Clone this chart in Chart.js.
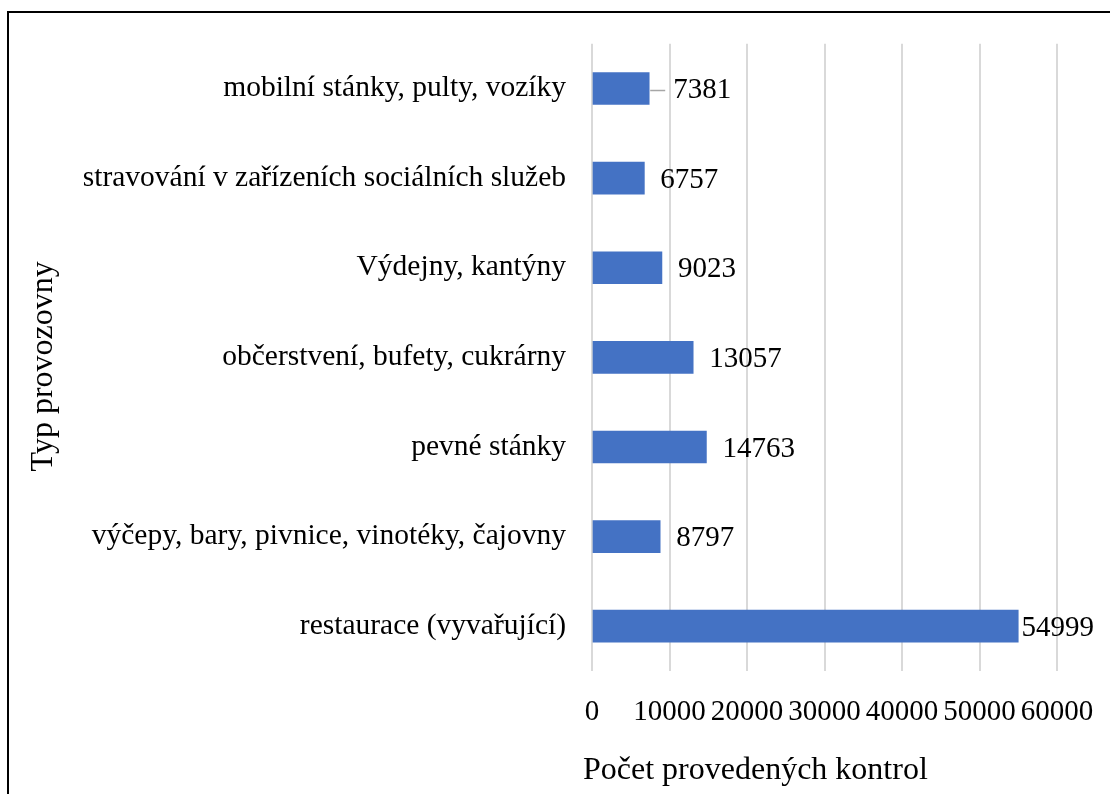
<!DOCTYPE html>
<html>
<head>
<meta charset="utf-8">
<script src="https://cdn.jsdelivr.net/npm/chart.js@4/dist/chart.umd.min.js"></script>
<style>
    html, body { margin: 0; padding: 0; background: #fff; }
    #wrap { width: 1110px; height: 794px; position: relative; }
</style>
</head>
<body>
<div id="wrap"><canvas id="kontroly"></canvas></div>
<script>
// data (top to bottom)
const categories = [
    'mobilní stánky, pulty, vozíky',
    'stravování v zařízeních sociálních služeb',
    'Výdejny, kantýny',
    'občerstvení, bufety, cukrárny',
    'pevné stánky',
    'výčepy, bary, pivnice, vinotéky, čajovny',
    'restaurace (vyvařující)'
];
const counts = [7381, 6757, 9023, 13057, 14763, 8797, 54999];
const xTicks = [0, 10000, 20000, 30000, 40000, 50000, 60000];
const xTitle = 'Počet provedených kontrol';
const yTitle = 'Typ provozovny';

const FONT = '"Liberation Serif", "Times New Roman", serif';
const SIZE = 29;

// frame around the whole chart (open to the right and bottom, like the crop)
const framePlugin = {
    id: 'frame',
    beforeDraw(chart) {
        const ctx = chart.ctx;
        ctx.save();
        ctx.fillStyle = '#000';
        ctx.fillRect(7, 11, 2, 900);
        ctx.fillRect(7, 11, 1200, 2);
        ctx.restore();
    }
};

// axis titles: Excel doesn't center them exactly on the plot, so draw by hand
const axisTitles = {
    id: 'axisTitles',
    afterDraw(chart) {
        const ctx = chart.ctx;
        const area = chart.chartArea;
        ctx.save();
        ctx.font = '32px ' + FONT;
        ctx.fillStyle = '#000';
        ctx.textBaseline = 'middle';
        ctx.textAlign = 'left';
        ctx.fillText(xTitle, area.left - 9, 771);
        ctx.translate(44, (area.top + area.bottom) / 2 + 9);
        ctx.rotate(-Math.PI / 2);
        ctx.textAlign = 'center';
        ctx.fillText(yTitle, 0, 0);
        ctx.restore();
    }
};

// value labels at the end of each bar
const valueLabels = {
    id: 'valueLabels',
    afterDatasetsDraw(chart) {
        const ctx = chart.ctx;
        const meta = chart.getDatasetMeta(0);
        ctx.save();
        ctx.font = SIZE + 'px ' + FONT;
        ctx.fillStyle = '#000';
        ctx.textBaseline = 'middle';
        ctx.textAlign = 'left';
        meta.data.forEach((bar, i) => {
            const txt = String(counts[i]);
            const w = ctx.measureText(txt).width;
            let x = bar.x + 16;
            if (i === 0) {
                // this one was dragged a bit, Excel draws a leader line
                x = bar.x + 24;
                ctx.strokeStyle = '#a6a6a6';
                ctx.lineWidth = 1.5;
                ctx.beginPath();
                ctx.moveTo(bar.x + 1, bar.y + 2);
                ctx.lineTo(bar.x + 16, bar.y + 2);
                ctx.stroke();
            }
            if (x + w > 1094) x = Math.max(bar.x + 3, 1094 - w);
            ctx.fillText(txt, x, bar.y + 2);
        });
        ctx.restore();
    }
};

const ctx = document.getElementById('kontroly').getContext('2d');
new Chart(ctx, {
    type: 'bar',
    data: {
        labels: categories,
        datasets: [{
            data: counts,
            backgroundColor: '#4472C4',
            barThickness: 32
        }]
    },
    options: {
        indexAxis: 'y',
        responsive: true,
        maintainAspectRatio: false,
        animation: false,
        layout: { padding: { top: 41, right: 53, bottom: 0, left: 0 } },
        plugins: {
            legend: { display: false },
            tooltip: { enabled: false }
        },
        scales: {
            x: {
                min: 0,
                max: 60000,
                afterBuildTicks: (scale) => { scale.ticks = xTicks.map(v => ({ value: v })); },
                afterFit: (scale) => {
                    scale.height = 123;
                    // keep the plot edge where the layout padding says
                    scale.paddingLeft = 0;
                    scale.paddingRight = 0;
                },
                grid: { color: '#d9d9d9', lineWidth: 2, drawTicks: false },
                border: { display: false },
                ticks: {
                    padding: 24,
                    color: '#000',
                    maxRotation: 0,
                    autoSkip: false,
                    font: { family: FONT, size: SIZE },
                    callback: (v) => String(v)
                },
                title: { display: false }
            },
            y: {
                afterFit: (scale) => { scale.width = 592; },
                grid: { display: false, drawTicks: false },
                border: { display: false },
                ticks: {
                    padding: 26,
                    color: '#000',
                    font: { family: FONT, size: 29.5 }
                },
                title: { display: false }
            }
        }
    },
    plugins: [framePlugin, valueLabels, axisTitles]
});
</script>
</body>
</html>
